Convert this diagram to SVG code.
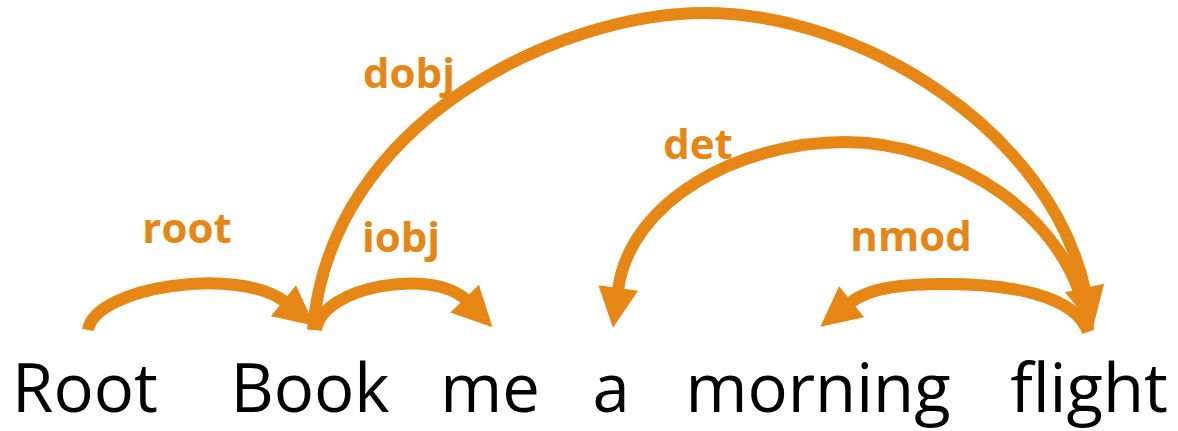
<svg xmlns="http://www.w3.org/2000/svg" width="1178" height="431" viewBox="0 0 1178 431">
  <style>
    .word { font-family: "Open Sans", "Liberation Sans", sans-serif; font-size: 67px; fill: #000000; text-anchor: middle; }
    .lbl { font-family: "Open Sans", "Liberation Sans", sans-serif; font-size: 42px; font-weight: bold; fill: #E68614; text-anchor: middle; }
    .arc { fill: none; stroke: #E68614; stroke-width: 12; stroke-linecap: butt; marker-end: url(#head); }
  </style>
  <defs>
    <marker id="head" markerUnits="userSpaceOnUse" viewBox="0 0 40 40" markerWidth="40" markerHeight="40" refX="2" refY="20" orient="auto" overflow="visible">
      <path d="M0,0 L40,20 L0,40 z" fill="#E68614"/>
    </marker>
  </defs>
  <rect width="1178" height="431" fill="#ffffff"/>
  <g id="connectors">
    <path id="e-root" class="arc" d="M88,330 C95,286 240,266 285,302"/>
    <path id="e-iobj" class="arc" d="M316,330 C322,285 435,268 466,300"/>
    <path id="e-dobj" class="arc" d="M313,330 C330,120 560,13 705,13 C860,13 1050,130 1085,290"/>
    <path id="e-det" class="arc" d="M1088,330 C1075,215 950,142 845,142 C740,142 630,200 618,290"/>
    <path id="e-nmod" class="arc" d="M1088,332 C1075,295 1010,284 945,284 C905,284 870,287 850,303"/>
  </g>
  <g id="labels">
    <text class="lbl" x="187" y="243">root</text>
    <text class="lbl" x="401" y="252">iobj</text>
    <text class="lbl" x="409" y="88">dobj</text>
    <text class="lbl" x="698" y="159">det</text>
    <text class="lbl" x="911" y="251">nmod</text>
  </g>
  <g id="n-root"><text class="word" x="85" y="412">Root</text></g>
  <g id="n-book"><text class="word" x="310" y="412">Book</text></g>
  <g id="n-me"><text class="word" x="490" y="412">me</text></g>
  <g id="n-a"><text class="word" x="611" y="412">a</text></g>
  <g id="n-morning"><text class="word" x="818" y="412">morning</text></g>
  <g id="n-flight"><text class="word" x="1089" y="412">flight</text></g>
</svg>
